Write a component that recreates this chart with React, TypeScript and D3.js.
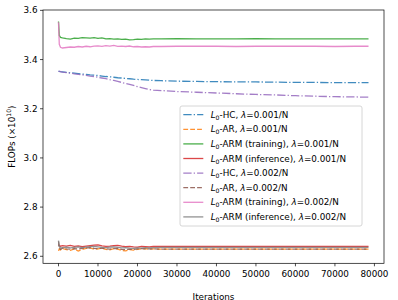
import React from 'react';
import * as d3 from 'd3';

// training iterations shared by every run
const iterations = [
  0, 200, 500,
  1000, 2000, 3000, 4000, 5000, 6000, 7000, 8000, 9000, 10000,
  11000, 12000, 13000, 14000, 15000, 16000, 17000, 18000, 19000, 20000,
  21000, 22000, 23000, 24000,
  26000, 30000, 35000, 40000, 45000, 50000, 55000, 60000, 65000, 70000, 75000, 78500,
];

// FLOPs (x1e10)
const hc001 = [
  3.352, 3.352, 3.351,
  3.350, 3.348, 3.346, 3.345, 3.343, 3.341, 3.340, 3.338, 3.337, 3.335,
  3.333, 3.331, 3.330, 3.328, 3.326, 3.325, 3.323, 3.322, 3.320, 3.319,
  3.318, 3.317, 3.316, 3.315,
  3.314, 3.312, 3.311, 3.310, 3.309, 3.309, 3.308, 3.307, 3.307, 3.306, 3.306, 3.306,
];
const ar001 = [
  2.622, 2.630, 2.626,
  2.632, 2.627, 2.624, 2.630, 2.621, 2.628, 2.632, 2.634, 2.629, 2.630,
  2.633, 2.628, 2.626, 2.631, 2.629, 2.624, 2.622, 2.627, 2.625, 2.628,
  2.630, 2.631, 2.629, 2.630,
  2.629, 2.629, 2.629, 2.629, 2.629, 2.629, 2.629, 2.629, 2.629, 2.629, 2.629, 2.629,
];
const armTrain001 = [
  3.555, 3.498, 3.490,
  3.488, 3.485, 3.483, 3.487, 3.486, 3.489, 3.488, 3.487, 3.489, 3.486,
  3.488, 3.484, 3.485, 3.483, 3.484, 3.482, 3.483, 3.480, 3.481, 3.483,
  3.482, 3.484, 3.483, 3.484,
  3.484, 3.485, 3.484, 3.484, 3.484, 3.485, 3.484, 3.484, 3.484, 3.484, 3.484, 3.484,
];
const armInf001 = [
  2.648, 2.643, 2.641,
  2.643, 2.641, 2.644, 2.640, 2.642, 2.639, 2.641, 2.643, 2.645, 2.646,
  2.642, 2.640, 2.641, 2.643, 2.644, 2.641, 2.639, 2.640, 2.638, 2.637,
  2.640, 2.639, 2.638, 2.640,
  2.640, 2.640, 2.640, 2.640, 2.640, 2.640, 2.640, 2.640, 2.640, 2.640, 2.640, 2.640,
];
const hc002 = [
  3.352, 3.352, 3.351,
  3.349, 3.347, 3.345, 3.342, 3.340, 3.338, 3.336, 3.333, 3.331, 3.328,
  3.325, 3.322, 3.318, 3.315, 3.311, 3.307, 3.303, 3.299, 3.295, 3.290,
  3.286, 3.282, 3.278, 3.276,
  3.274, 3.270, 3.267, 3.264, 3.261, 3.258, 3.256, 3.253, 3.251, 3.249, 3.248, 3.247,
];
const ar002 = [
  2.660, 2.633, 2.628,
  2.633, 2.630, 2.629, 2.631, 2.630, 2.632, 2.634, 2.635, 2.632, 2.631,
  2.633, 2.630, 2.629, 2.631, 2.632, 2.628, 2.627, 2.629, 2.628, 2.630,
  2.631, 2.630, 2.630, 2.630,
  2.629, 2.629, 2.629, 2.629, 2.629, 2.629, 2.629, 2.629, 2.629, 2.629, 2.629, 2.629,
];
const armTrain002 = [
  3.552, 3.462, 3.450,
  3.447, 3.449, 3.451, 3.450, 3.453, 3.451, 3.454, 3.452, 3.455, 3.456,
  3.454, 3.457, 3.455, 3.458, 3.454, 3.455, 3.453, 3.455, 3.452, 3.453,
  3.451, 3.452, 3.451, 3.453,
  3.453, 3.454, 3.454, 3.454, 3.453, 3.454, 3.454, 3.454, 3.454, 3.453, 3.454, 3.454,
];
const armInf002 = [
  2.664, 2.640, 2.633,
  2.635, 2.637, 2.634, 2.636, 2.638, 2.635, 2.637, 2.639, 2.640, 2.638,
  2.636, 2.635, 2.637, 2.638, 2.636, 2.634, 2.635, 2.633, 2.632, 2.634,
  2.633, 2.635, 2.634, 2.635,
  2.636, 2.636, 2.636, 2.636, 2.636, 2.636, 2.636, 2.636, 2.636, 2.636, 2.636, 2.636,
];

const xTicks = [0, 10000, 20000, 30000, 40000, 50000, 60000, 70000, 80000];
const yTicks = [2.6, 2.8, 3.0, 3.2, 3.4, 3.6];

type Style = 'dashdot' | 'dashed' | 'solid';
const series: { method: string; lam: string; values: number[]; color: string; style: Style }[] = [
  { method: 'HC', lam: '0.001', values: hc001, color: '#1f77b4', style: 'dashdot' },
  { method: 'AR', lam: '0.001', values: ar001, color: '#ff7f0e', style: 'dashed' },
  { method: 'ARM (training)', lam: '0.001', values: armTrain001, color: '#2ca02c', style: 'solid' },
  { method: 'ARM (inference)', lam: '0.001', values: armInf001, color: '#d62728', style: 'solid' },
  { method: 'HC', lam: '0.002', values: hc002, color: '#9467bd', style: 'dashdot' },
  { method: 'AR', lam: '0.002', values: ar002, color: '#8c564b', style: 'dashed' },
  { method: 'ARM (training)', lam: '0.002', values: armTrain002, color: '#e377c2', style: 'solid' },
  { method: 'ARM (inference)', lam: '0.002', values: armInf002, color: '#7f7f7f', style: 'solid' },
];

const W = 398;
const H = 300;
const plot = { left: 43, right: 384, top: 10, bottom: 263.3 };
const FONT = 'DejaVu Sans, sans-serif';
const FS = 8.8;
const LW = 1.3;

const dashes: Record<Style, string | undefined> = {
  dashdot: '8.3 2.1 1.3 2.1',
  dashed: '4.8 2.1',
  solid: undefined,
};

const x = d3.scaleLinear().domain([-3925, 82425]).range([plot.left, plot.right]);
const y = d3.scaleLinear().domain([2.5715, 3.6015]).range([plot.bottom, plot.top]);

const Label: React.FC<{ method: string; lam: string }> = ({ method, lam }) => (
  <>
    <tspan fontStyle="italic">L</tspan>
    <tspan fontSize={FS * 0.7} dy={2}>0</tspan>
    <tspan dy={-2}>{`-${method}, `}</tspan>
    <tspan fontStyle="italic">λ</tspan>
    <tspan>{`=${lam}/N`}</tspan>
  </>
);

export default function App() {
  const line = (vals: number[]) =>
    d3.line<number>()
      .x((_, i) => x(iterations[i]))
      .y((d) => y(d))(vals) ?? '';

  const legend = { x: 180, y: 106, w: 182, h: 120, first: 114.7, step: 14.6 };

  return (
    <svg
      width={W}
      height={H}
      style={{ position: 'absolute', left: 0, top: 0, background: '#fff' }}
      fontFamily={FONT}
      fontSize={FS}
    >
      <defs>
        <clipPath id="plotClip">
          <rect x={plot.left} y={plot.top} width={plot.right - plot.left} height={plot.bottom - plot.top} />
        </clipPath>
      </defs>

      <g clipPath="url(#plotClip)">
        {series.map((s, i) => (
          <path
            key={i}
            d={line(s.values)}
            fill="none"
            stroke={s.color}
            strokeWidth={LW}
            strokeDasharray={dashes[s.style]}
            strokeOpacity={0.85}
          />
        ))}
      </g>

      {/* frame */}
      <rect
        x={plot.left}
        y={plot.top}
        width={plot.right - plot.left}
        height={plot.bottom - plot.top}
        fill="none"
        stroke="#000"
        strokeWidth={0.7}
      />

      {/* x axis */}
      {xTicks.map((t) => (
        <g key={t} transform={`translate(${x(t)},${plot.bottom})`}>
          <line y2={3} stroke="#000" strokeWidth={0.7} />
          <text y={13.8} textAnchor="middle" fill="#000">{t}</text>
        </g>
      ))}
      <text x={(plot.left + plot.right) / 2} y={299.5} textAnchor="middle" fill="#000">Iterations</text>

      {/* y axis */}
      {yTicks.map((t) => (
        <g key={t} transform={`translate(${plot.left},${y(t)})`}>
          <line x2={-3} stroke="#000" strokeWidth={0.7} />
          <text x={-5.5} dy="0.35em" textAnchor="end" fill="#000">{t.toFixed(1)}</text>
        </g>
      ))}
      <text
        transform={`translate(14.5,${(plot.top + plot.bottom) / 2}) rotate(-90)`}
        textAnchor="middle"
        fill="#000"
      >
        FLOPs (×10<tspan fontSize={FS * 0.7} dy={-3.5}>10</tspan><tspan dy={3.5}>)</tspan>
      </text>

      {/* legend */}
      <rect
        x={legend.x}
        y={legend.y}
        width={legend.w}
        height={legend.h}
        rx={2}
        fill="#fff"
        fillOpacity={0.8}
        stroke="#cccccc"
        strokeWidth={0.8}
      />
      {series.map((s, i) => {
        const ly = legend.first + i * legend.step;
        return (
          <g key={i}>
            <line
              x1={183.3}
              x2={203.3}
              y1={ly}
              y2={ly}
              stroke={s.color}
              strokeWidth={LW}
              strokeDasharray={dashes[s.style]}
              strokeOpacity={0.85}
            />
            <text x={210.7} y={ly + 3.1} fill="#000">
              <Label method={s.method} lam={s.lam} />
            </text>
          </g>
        );
      })}
    </svg>
  );
}
